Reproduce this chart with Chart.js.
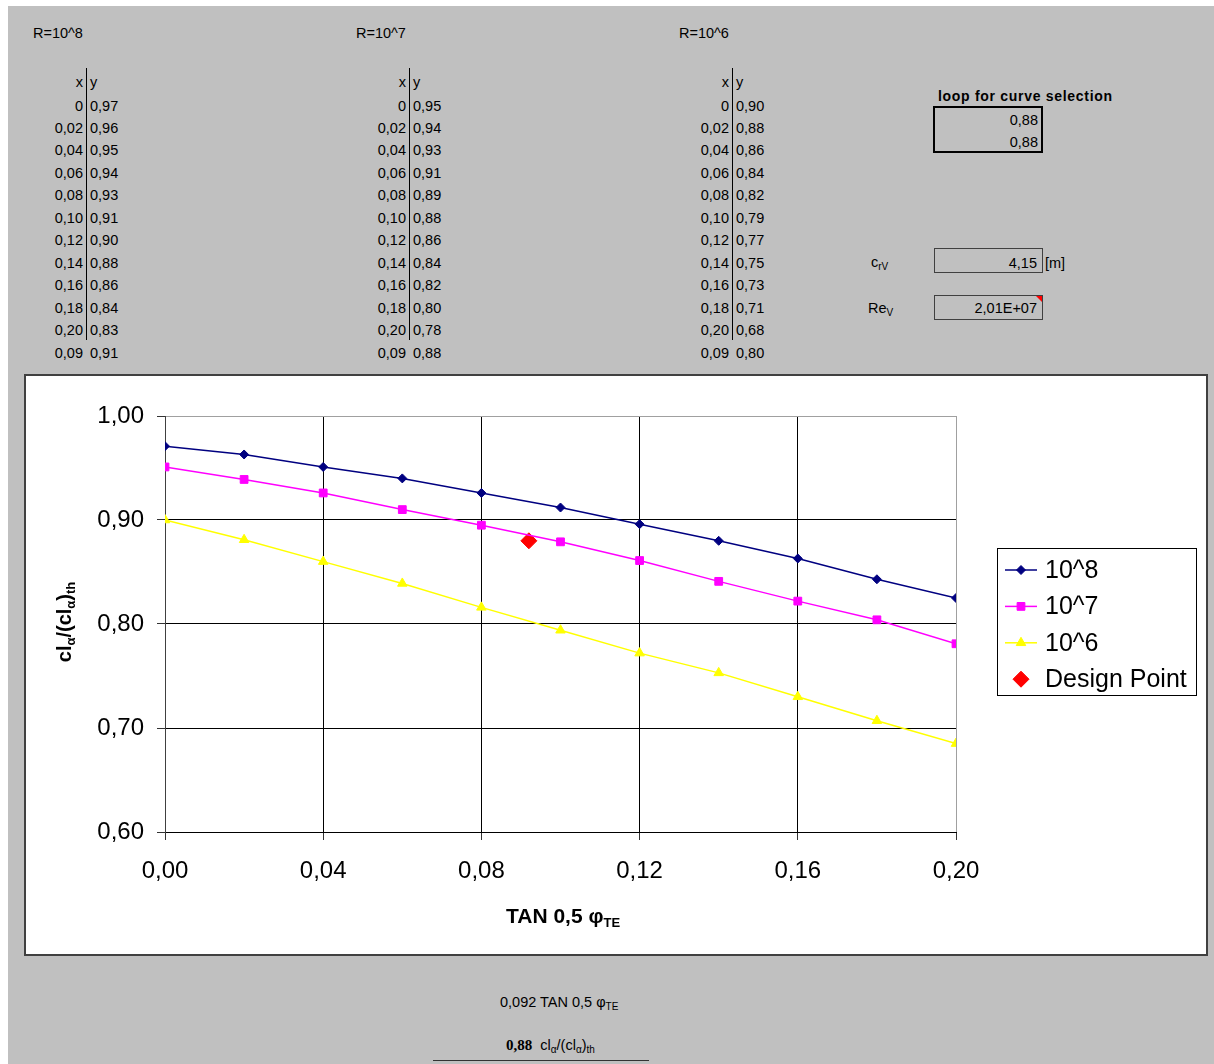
<!DOCTYPE html>
<html>
<head>
<meta charset="utf-8">
<script src="https://cdn.jsdelivr.net/npm/chart.js@4.4.0/dist/chart.umd.min.js"></script>
<style>
  html, body { margin: 0; padding: 0; background: #fff; }
  body { width: 1214px; height: 1064px; position: relative; overflow: hidden;
         font-family: "Liberation Sans", Arial, sans-serif; }
  #sheet { position: absolute; left: 8px; top: 6px; right: 0; bottom: 0; background: #c0c0c0; }
  .t { position: absolute; font-size: 14.5px; line-height: 16px; color: #000; white-space: nowrap; }
  .r { text-align: right; }
  .vline { position: absolute; width: 1px; background: #000; }
  .box { position: absolute; box-sizing: border-box; }
  sub { font-size: 10px; vertical-align: -3px; line-height: 0; }
  #chartBox { position: absolute; left: 24px; top: 374px; width: 1180px; height: 578px;
              border: 2px solid #404040; background: #fff; }
</style>
</head>
<body>
<div id="sheet"></div>
<div id="cells"></div>

<div class="t" style="left:938px; top:88px; font-weight:bold; font-size:14px; letter-spacing:0.7px;">loop for curve selection</div>
<div class="box" style="left:933px; top:106px; width:110px; height:47px; border:2px solid #000;"></div>
<div class="t r" style="left:978px; top:112px; width:60px;">0,88</div>
<div class="t r" style="left:978px; top:134px; width:60px;">0,88</div>

<div class="t" style="left:871px; top:254px;">c<sub>rV</sub></div>
<div class="box" style="left:934px; top:248px; width:109px; height:25px; border:1px solid #404040;"></div>
<div class="t r" style="left:977px; top:255px; width:60px;">4,15</div>
<div class="t" style="left:1045px; top:255px;">[m]</div>

<div class="t" style="left:868px; top:300px;">Re<sub>V</sub></div>
<div class="box" style="left:934px; top:295px; width:109px; height:25px; border:1px solid #404040;"></div>
<div class="t r" style="left:957px; top:300px; width:80px;">2,01E+07</div>
<div style="position:absolute; left:1036px; top:296px; width:0; height:0; border-top:6px solid #f00; border-left:6px solid transparent;"></div>

<div id="chartBox"><canvas id="c" width="1180" height="578"></canvas></div>

<div class="t" style="left:500px; top:994px;">0,092 TAN 0,5 φ<sub>TE</sub></div>
<div class="t" style="left:506px; top:1037px;"><b style="font-family:'Liberation Serif',serif; font-size:15px;">0,88</b>&nbsp; cl<sub>α</sub>/(cl<sub>α</sub>)<sub>th</sub></div>
<div style="position:absolute; left:433px; top:1060px; width:216px; height:1px; background:#333;"></div>

<script>
// chart data
const xValues = [0, 0.02, 0.04, 0.06, 0.08, 0.10, 0.12, 0.14, 0.16, 0.18, 0.20];
const re8 = [0.971, 0.963, 0.951, 0.940, 0.926, 0.912, 0.896, 0.880, 0.863, 0.843, 0.825];
const re7 = [0.951, 0.939, 0.926, 0.910, 0.895, 0.879, 0.861, 0.841, 0.822, 0.804, 0.781];
const re6 = [0.900, 0.881, 0.860, 0.839, 0.816, 0.794, 0.772, 0.753, 0.730, 0.707, 0.685];
const designX = [0.092];
const designY = [0.88];
const seriesLabels = ['10^8', '10^7', '10^6', 'Design Point'];
const xTickLabels = ['0,00', '0,04', '0,08', '0,12', '0,16', '0,20'];
const yTickLabels = ['0,60', '0,70', '0,80', '0,90', '1,00'];

// spreadsheet cells above the chart
const tableTitles = ['R=10^8', 'R=10^7', 'R=10^6'];
const tableX = ['0', '0,02', '0,04', '0,06', '0,08', '0,10', '0,12', '0,14', '0,16', '0,18', '0,20'];
const tableY = [
    ['0,97', '0,96', '0,95', '0,94', '0,93', '0,91', '0,90', '0,88', '0,86', '0,84', '0,83'],
    ['0,95', '0,94', '0,93', '0,91', '0,89', '0,88', '0,86', '0,84', '0,82', '0,80', '0,78'],
    ['0,90', '0,88', '0,86', '0,84', '0,82', '0,79', '0,77', '0,75', '0,73', '0,71', '0,68']
];
const lookupX = '0,09';
const lookupY = ['0,91', '0,88', '0,80'];

const cells = document.getElementById('cells');
function cell(text, left, cy, right) {
    const d = document.createElement('div');
    d.className = 't' + (right ? ' r' : '');
    d.textContent = text;
    if (right) { d.style.left = (left - 60) + 'px'; d.style.width = '60px'; }
    else d.style.left = left + 'px';
    d.style.top = (cy - 8) + 'px';
    cells.appendChild(d);
}
tableTitles.forEach(function (title, k) {
    const off = k * 323;
    cell(title, 33 + off, 33, false);
    cell('x', 83 + off, 82, true);
    cell('y', 90 + off, 82, false);
    const line = document.createElement('div');
    line.className = 'vline';
    line.style.left = (86 + off) + 'px';
    line.style.top = '68px';
    line.style.height = '272px';
    cells.appendChild(line);
    tableX.forEach(function (x, i) {
        const cy = 105.5 + i * 22.45;
        cell(x, 83 + off, cy, true);
        cell(tableY[k][i], 90 + off, cy, false);
    });
    cell(lookupX, 83 + off, 353, true);
    cell(lookupY[k], 90 + off, 353, false);
});

const FONT = '"Liberation Sans", Arial, sans-serif';

function pts(ys) { return xValues.map(function (x, i) { return { x: x, y: ys[i] }; }); }

// draws text made of normal and subscript pieces
function drawRich(ctx, parts, x, y, size, subSize) {
    let total = 0;
    parts.forEach(function (p) {
        ctx.font = 'bold ' + (p.sub ? subSize : size) + 'px ' + FONT;
        p.w = ctx.measureText(p.t).width;
        total += p.w;
    });
    let cx = x - total / 2;
    ctx.textAlign = 'left';
    ctx.textBaseline = 'alphabetic';
    parts.forEach(function (p) {
        ctx.font = 'bold ' + (p.sub ? subSize : size) + 'px ' + FONT;
        ctx.fillText(p.t, cx, y + (p.sub ? 4 : 0));
        cx += p.w;
    });
}

const titlesPlugin = {
    id: 'axisTitles',
    afterDraw: function (chart) {
        const ctx = chart.ctx;
        ctx.save();
        ctx.fillStyle = '#000';
        drawRich(ctx, [
            { t: 'TAN 0,5 φ' }, { t: 'TE', sub: true }
        ], 537, 547, 21, 13);
        ctx.translate(45, 246);
        ctx.rotate(-Math.PI / 2);
        drawRich(ctx, [
            { t: 'cl' }, { t: 'α', sub: true }, { t: '/(cl' }, { t: 'α', sub: true }, { t: ')' }, { t: 'th', sub: true }
        ], 0, 0, 20, 13);
        ctx.restore();
    }
};

const legendPlugin = {
    id: 'boxLegend',
    afterDraw: function (chart) {
        const ctx = chart.ctx;
        ctx.save();
        ctx.fillStyle = '#fff';
        ctx.fillRect(971, 172, 199, 147);
        ctx.strokeStyle = '#000';
        ctx.lineWidth = 1;
        ctx.strokeRect(971.5, 172.5, 199, 147);
        chart.data.datasets.forEach(function (ds, i) {
            const y = 194 + i * 36.4;
            if (ds.showLine !== false) {
                ctx.strokeStyle = ds.borderColor;
                ctx.lineWidth = ds.borderWidth;
                ctx.beginPath();
                ctx.moveTo(979, y);
                ctx.lineTo(1011, y);
                ctx.stroke();
            }
            ctx.fillStyle = ds.pointBackgroundColor;
            ctx.strokeStyle = ds.pointBorderColor;
            ctx.lineWidth = 1;
            Chart.helpers.drawPoint(ctx, { pointStyle: ds.pointStyle, radius: ds.pointRadius, rotation: 0, borderWidth: 1 }, 995, y);
            ctx.fillStyle = '#000';
            ctx.font = '25px ' + FONT;
            ctx.textAlign = 'left';
            ctx.textBaseline = 'middle';
            ctx.fillText(ds.label, 1019, y + 1);
        });
        ctx.restore();
    }
};

function lineSet(label, ys, color, style, radius) {
    return {
        label: label,
        data: pts(ys),
        borderColor: color,
        backgroundColor: color,
        pointBackgroundColor: color,
        pointBorderColor: color,
        borderWidth: 1.5,
        pointStyle: style,
        pointRadius: radius,
        pointBorderWidth: 1,
        tension: 0
    };
}

new Chart(document.getElementById('c').getContext('2d'), {
    type: 'line',
    data: {
        datasets: [
            lineSet(seriesLabels[0], re8, '#000080', 'rectRot', 4.5),
            lineSet(seriesLabels[1], re7, '#ff00ff', 'rect', 5.5),
            lineSet(seriesLabels[2], re6, '#ffff00', 'triangle', 5.5),
            {
                label: seriesLabels[3],
                data: designX.map(function (x, i) { return { x: x, y: designY[i] }; }),
                showLine: false,
                backgroundColor: '#ff0000',
                borderColor: '#ff0000',
                pointBackgroundColor: '#ff0000',
                pointBorderColor: '#ff0000',
                pointStyle: 'rectRot',
                pointRadius: 8,
                pointBorderWidth: 1
            }
        ]
    },
    options: {
        responsive: false,
        animation: false,
        layout: { padding: { left: 0, right: 250, top: 40, bottom: 0 } },
        plugins: { legend: { display: false }, tooltip: { enabled: false } },
        scales: {
            x: {
                type: 'linear',
                min: 0,
                max: 0.2,
                afterFit: function (s) { s.height = 122; },
                ticks: {
                    stepSize: 0.04,
                    autoSkip: false,
                    maxRotation: 0,
                    padding: 17,
                    color: '#000',
                    font: { family: FONT, size: 24 },
                    callback: function (v, i) { return xTickLabels[i]; }
                },
                grid: {
                    color: function (c) { return c.index === xTickLabels.length - 1 ? '#a0a0a0' : '#000'; },
                    tickColor: '#333',
                    tickLength: 8
                },
                border: { color: '#000' }
            },
            y: {
                min: 0.6,
                max: 1.0,
                afterFit: function (s) { s.width = 139; },
                ticks: {
                    stepSize: 0.1,
                    padding: 13,
                    color: '#000',
                    font: { family: FONT, size: 24 },
                    callback: function (v, i) { return yTickLabels[i]; }
                },
                grid: {
                    color: function (c) { return c.index === yTickLabels.length - 1 ? '#a0a0a0' : '#000'; },
                    tickColor: '#333',
                    tickLength: 8
                },
                border: { color: '#404040' }
            }
        }
    },
    plugins: [titlesPlugin, legendPlugin]
});
</script>
</body>
</html>
